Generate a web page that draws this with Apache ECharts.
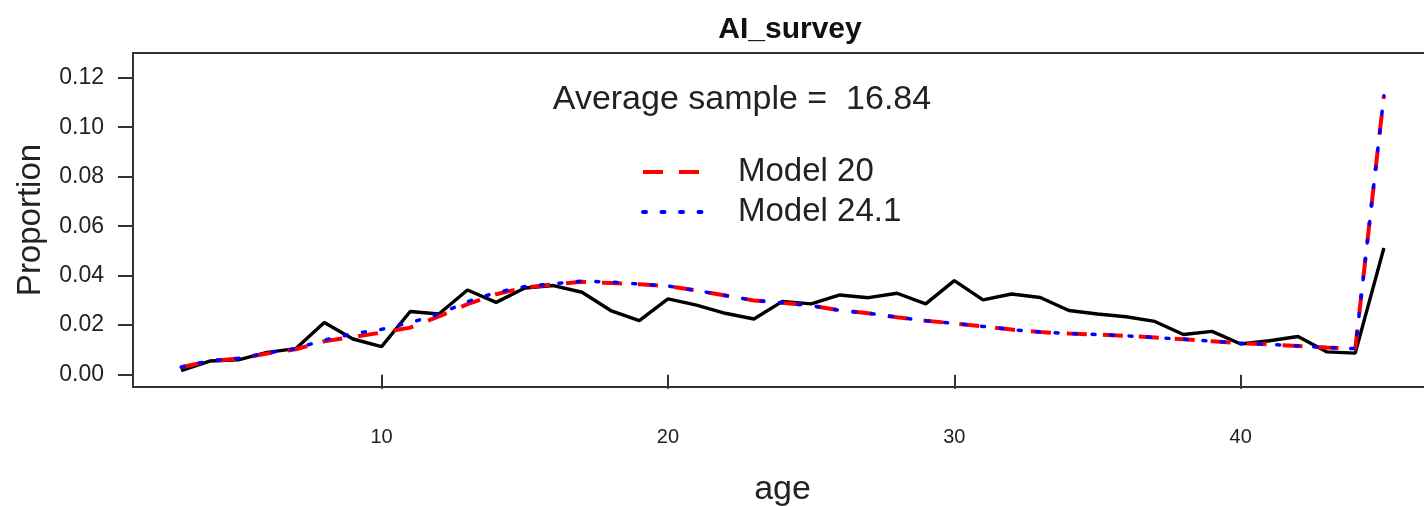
<!DOCTYPE html>
<html>
<head>
<meta charset="utf-8">
<script src="https://cdn.jsdelivr.net/npm/echarts@6/dist/echarts.min.js"></script>
<style>
html,body{margin:0;padding:0;background:#fff;}
#chart{width:1424px;height:506px;}
</style>
</head>
<body>
<div id="chart"></div>
<script>
const ages = [3,4,5,6,7,8,9,10,11,12,13,14,15,16,17,18,19,20,21,22,23,24,25,26,27,28,29,30,31,32,33,34,35,36,37,38,39,40,41,42,43,44,45];
const observed = [0.0016,0.0055,0.006,0.009,0.0105,0.0211,0.0144,0.0113,0.0255,0.0245,0.0342,0.0292,0.035,0.036,0.0333,0.0259,0.0218,0.0306,0.0281,0.0248,0.0225,0.0296,0.0286,0.0322,0.0311,0.0329,0.0286,0.038,0.0302,0.0326,0.0312,0.0259,0.0245,0.0234,0.0215,0.0162,0.0175,0.0124,0.0137,0.0154,0.0092,0.0087,0.0512];
const model20 = [0.003,0.0055,0.0065,0.0085,0.0102,0.0135,0.0152,0.017,0.019,0.0235,0.0285,0.0325,0.0352,0.0365,0.0375,0.037,0.0365,0.0358,0.034,0.032,0.030,0.029,0.0279,0.026,0.0248,0.0232,0.0218,0.0207,0.0195,0.0182,0.0172,0.0166,0.0162,0.0157,0.015,0.0143,0.0135,0.0127,0.0122,0.0116,0.011,0.0105,0.1127];
const model241 = [0.003,0.0056,0.0066,0.0087,0.0105,0.014,0.0165,0.0183,0.021,0.0245,0.0295,0.0332,0.0356,0.0367,0.0378,0.0374,0.0366,0.0358,0.034,0.032,0.030,0.029,0.0279,0.026,0.0248,0.0232,0.0218,0.0207,0.0195,0.0182,0.0172,0.0166,0.0162,0.0157,0.015,0.0143,0.0135,0.0127,0.0122,0.0116,0.011,0.0105,0.1127];
const xTicks = [10,20,30,40];
const yTicks = [0,0.02,0.04,0.06,0.08,0.10,0.12];
const titleText = 'AI_survey';
const avgText = 'Average sample =  16.84';
const seriesNames = ['Model 20','Model 24.1'];

const pairs = arr => ages.map((a,i)=>[a,arr[i]]);
const font = 'Liberation Sans, Arial, sans-serif';

const chart = echarts.init(document.getElementById('chart'), null, {renderer:'canvas'});
chart.setOption({
  animation:false,
  backgroundColor:'#fff',
  title:[
    {text:titleText,left:785,top:10,textAlign:'center',
     textStyle:{fontFamily:font,fontSize:30,fontWeight:'bold',color:'#111'}},
    {text:avgText,left:737,top:78,textAlign:'center',
     textStyle:{fontFamily:font,fontSize:34,fontWeight:'normal',color:'#222'}}
  ],
  legend:{
    data:seriesNames,
    orient:'vertical',left:636,top:149,
    itemWidth:64,itemHeight:20,itemGap:4,
    itemStyle:{opacity:0},
    lineStyle:{width:4},
    textStyle:{fontFamily:font,fontSize:33,color:'#222',lineHeight:36,padding:[0,0,0,26]},
    selectedMode:false
  },
  grid:{left:133,right:-8,top:53,bottom:119,show:true,borderColor:'#333',borderWidth:2,
        backgroundColor:'transparent',outerBoundsMode:'none',containLabel:false},
  xAxis:{
    type:'value',min:1.32,max:46.68,
    name:'age',nameLocation:'middle',nameGap:86,
    nameTextStyle:{fontFamily:font,fontSize:34,color:'#222'},
    axisLine:{show:false},
    splitLine:{show:false},
    axisTick:{show:true,length:14,customValues:xTicks,lineStyle:{color:'#333',width:2}},
    axisLabel:{customValues:xTicks,margin:40,fontFamily:font,fontSize:20,color:'#222'}
  },
  yAxis:{
    type:'value',min:-0.005,max:0.13,
    name:'Proportion',nameLocation:'middle',nameGap:86,nameRotate:90,
    nameTextStyle:{fontFamily:font,fontSize:33,color:'#222'},
    axisLine:{show:false},
    splitLine:{show:false},
    axisTick:{show:true,length:15,customValues:yTicks,lineStyle:{color:'#333',width:2}},
    axisLabel:{customValues:yTicks,margin:29,fontFamily:font,fontSize:23,color:'#222',
      formatter:v=>v.toFixed(2)}
  },
  series:[
    {name:'Observed',type:'line',data:pairs(observed),showSymbol:false,symbol:'none',
     lineStyle:{color:'#000',width:3.4},itemStyle:{color:'#000'},z:2},
    {name:'Model 20',type:'line',data:pairs(model20),showSymbol:false,symbol:'none',
     lineStyle:{color:'#ff0000',width:4,type:[20,16]},itemStyle:{color:'#ff0000'},z:3},
    {name:'Model 24.1',type:'line',data:pairs(model241),showSymbol:false,symbol:'none',
     lineStyle:{color:'#0000ff',width:3.5,type:[3,15.5],cap:'round'},itemStyle:{color:'#0000ff'},z:4}
  ]
});
</script>
</body>
</html>
